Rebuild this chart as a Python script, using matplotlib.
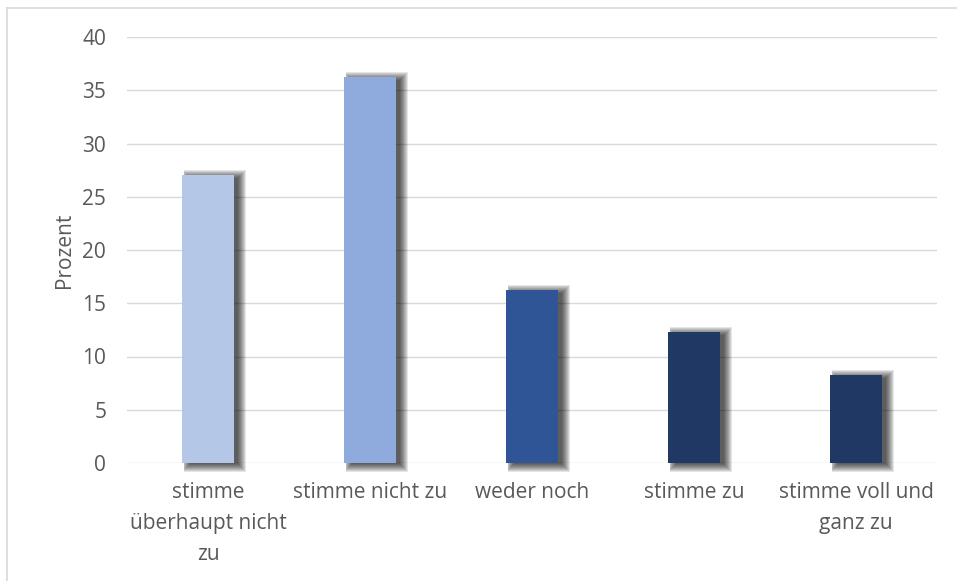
import matplotlib
matplotlib.use("Agg")
import matplotlib.pyplot as plt
from matplotlib.lines import Line2D
from matplotlib.patches import Rectangle

categories = ["stimme\nüberhaupt nicht\nzu", "stimme nicht zu", "weder noch",
              "stimme zu", "stimme voll und\nganz zu"]
values = [27.0, 36.25, 16.25, 12.3, 8.25]
colors = ["#B4C7E7", "#8FAADC", "#2F5597", "#203864", "#203864"]
yticks = [0, 5, 10, 15, 20, 25, 30, 35, 40]

plt.rcParams["font.family"] = ["Open Sans", "DejaVu Sans"]
text_color = "#595959"
grid_color = "#D9D9D9"

W, H = 957, 581
fig = plt.figure(figsize=(W / 100, H / 100), dpi=100)
ax_left, ax_right, ax_top, ax_bottom = 127, 937, 37, 463
ax = fig.add_axes([ax_left / W, 1 - ax_bottom / H,
                   (ax_right - ax_left) / W, (ax_bottom - ax_top) / H])

n = len(categories)
ax.set_xlim(-0.5, n - 0.5)
ax.set_ylim(0, 40)

# pixel -> data conversion for the shadow
px_x = n / (ax_right - ax_left)
px_y = 40 / (ax_bottom - ax_top)

bar_w = 0.315
dx, dy = 5, 2  # shadow offset in pixels (right, down)
for i, (v, c) in enumerate(zip(values, colors)):
    x0 = i - bar_w / 2
    x1 = i + bar_w / 2
    # soft drop shadow: stacked translucent rectangles growing outward,
    # kept from leaking past the bar's left edge
    for e in range(-1, 8):
        left = x0 + max(dx + 2 - e, 2) * px_x
        right = x1 + (dx + e) * px_x
        ax.add_patch(Rectangle(
            (left, -(dy + e) * px_y),
            right - left,
            v + 2 * e * px_y,
            facecolor="black", edgecolor="none", alpha=0.1,
            zorder=2, clip_on=False))
    ax.bar(i, v, width=bar_w, color=c, zorder=3)

for y in yticks:
    ax.axhline(y, color=grid_color, lw=1.0, zorder=1)

ax.set_yticks(yticks)
ax.set_xticks(range(n))
ax.set_xticklabels(categories, linespacing=1.6)
ax.tick_params(axis="both", length=0, labelsize=15, colors=text_color)
ax.tick_params(axis="y", pad=15)
ax.tick_params(axis="x", pad=14)
for s in ax.spines.values():
    s.set_visible(False)
ax.set_ylabel("Prozent", fontsize=15, color=text_color, labelpad=5)

# outer chart frame
fig.add_artist(Line2D([7 / W, 7 / W], [0, 1 - 8 / H], transform=fig.transFigure,
                      color=grid_color, lw=1.2))
fig.add_artist(Line2D([7 / W, 1], [1 - 8 / H, 1 - 8 / H], transform=fig.transFigure,
                      color=grid_color, lw=1.2))

fig.savefig("out.png", dpi=100)
